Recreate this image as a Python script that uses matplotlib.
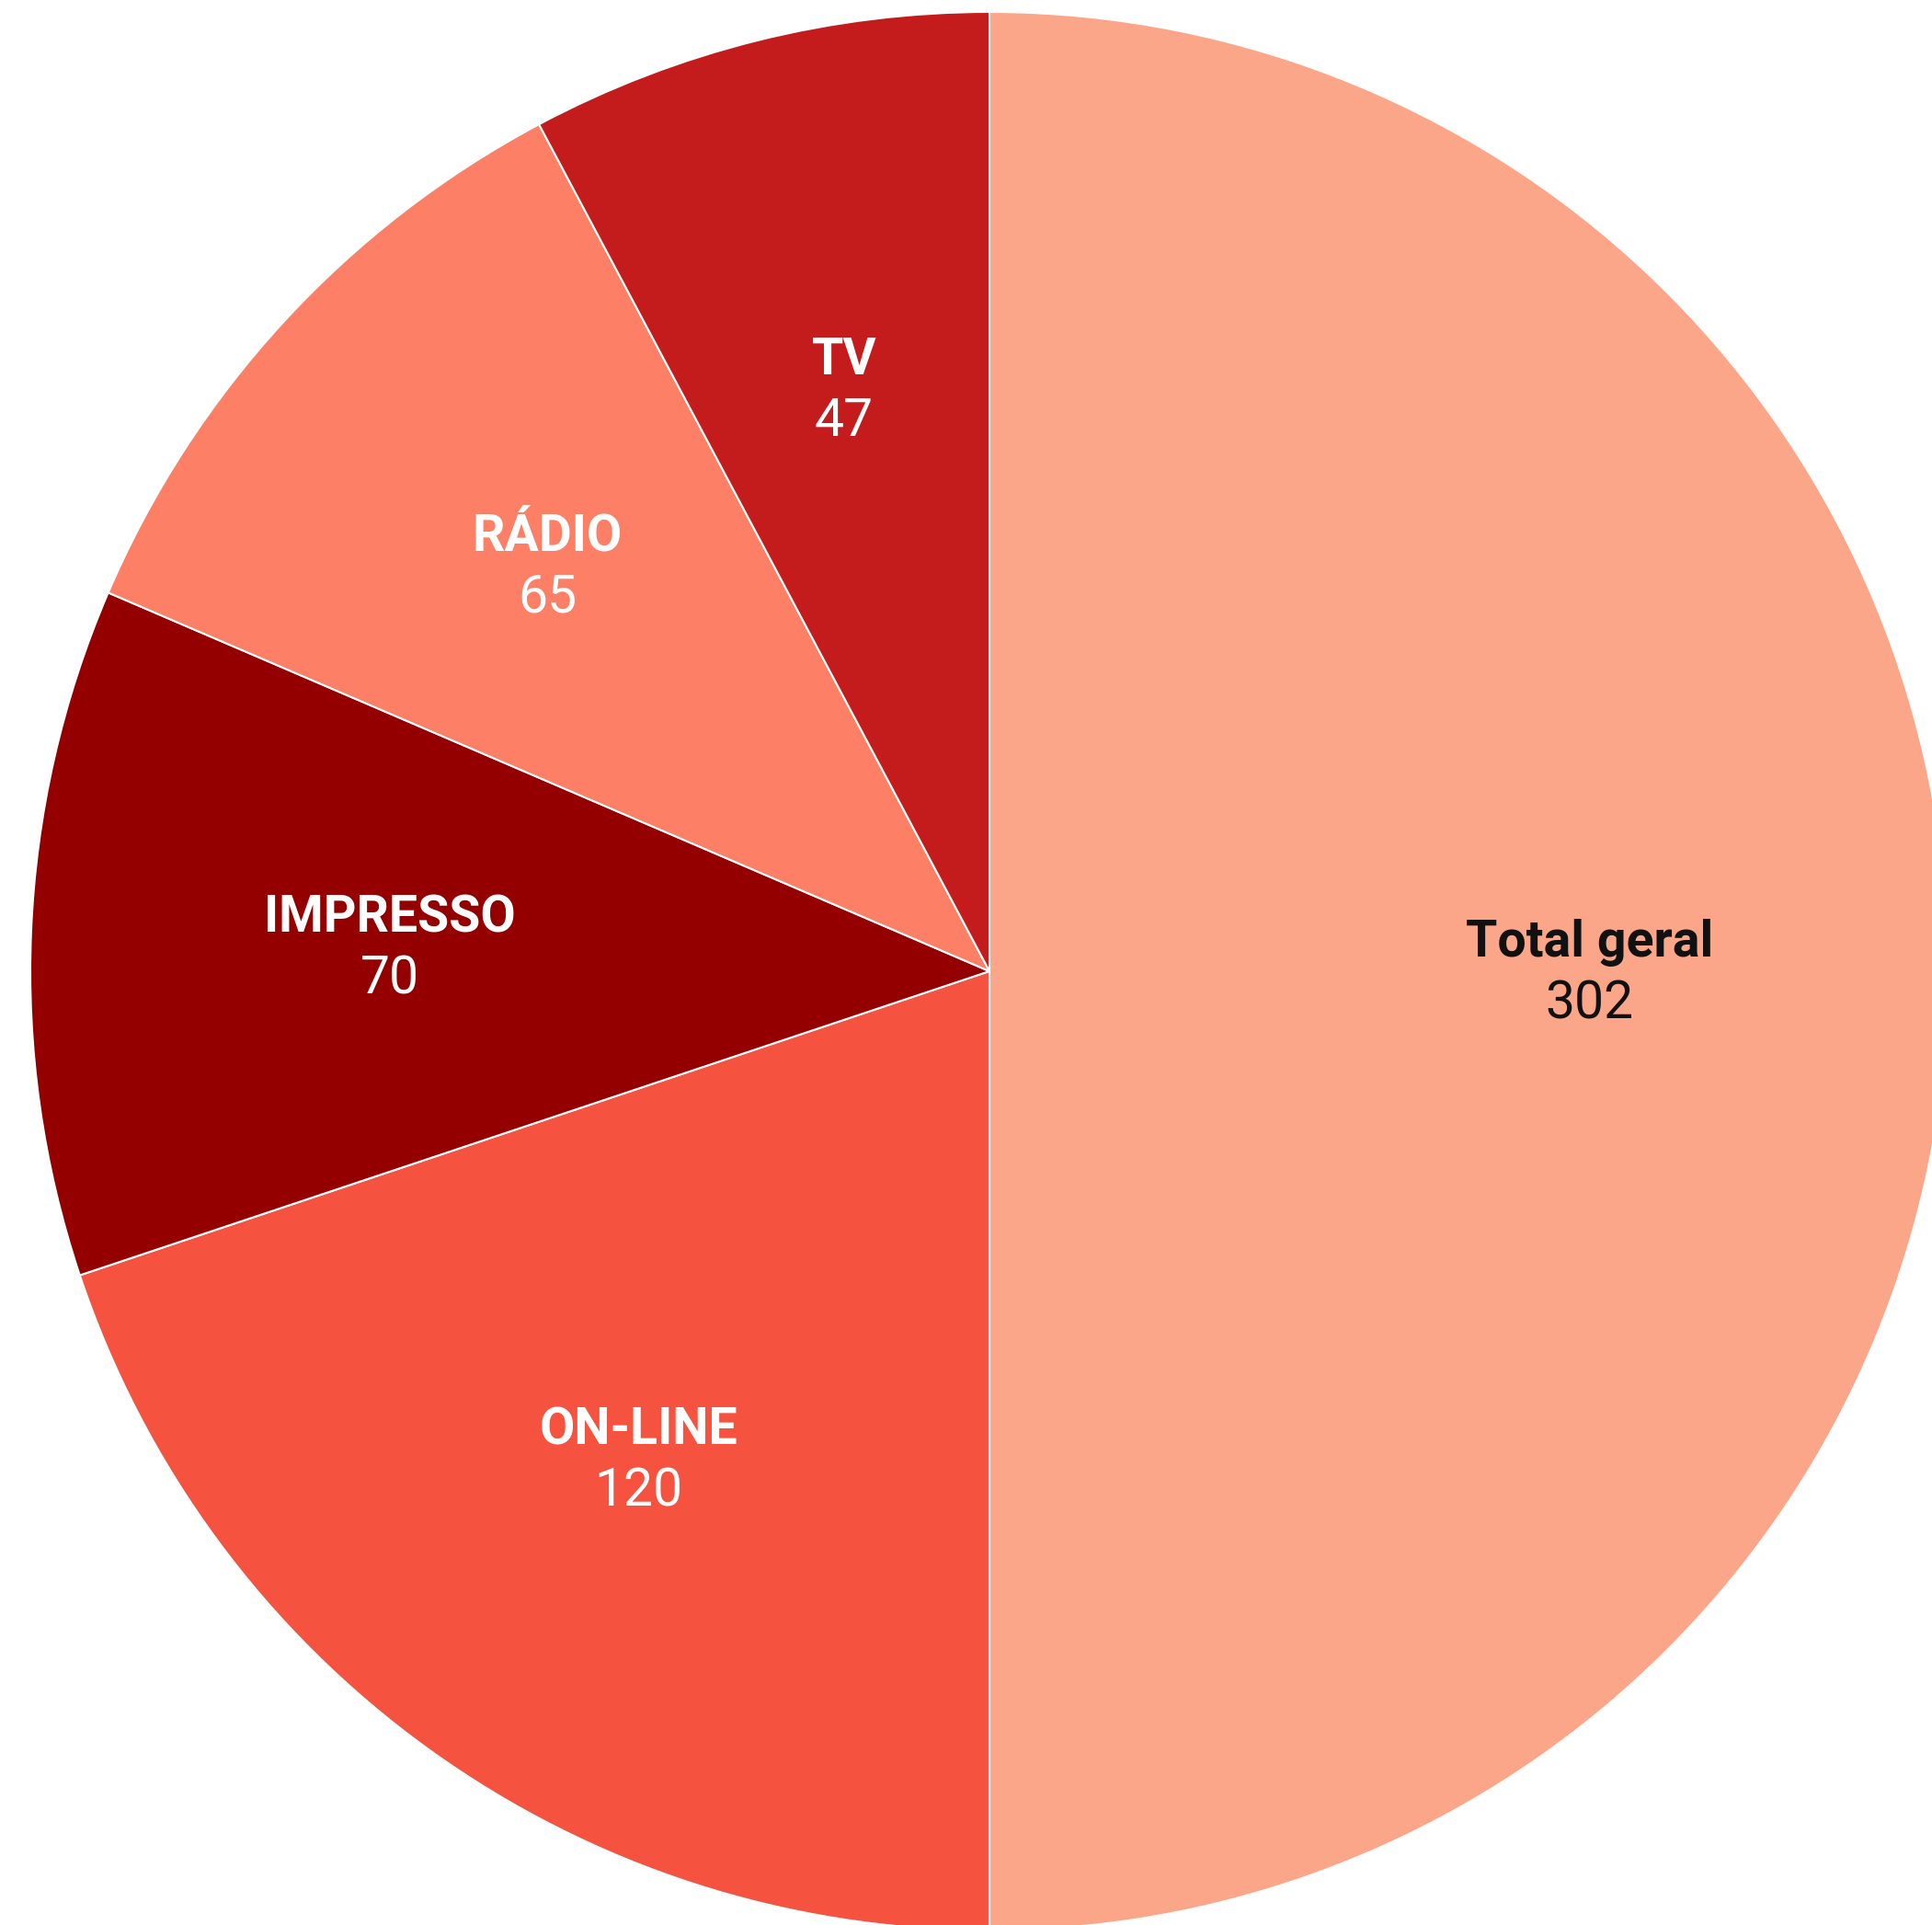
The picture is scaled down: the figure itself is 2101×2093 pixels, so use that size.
import numpy as np
import matplotlib
matplotlib.use("Agg")
import matplotlib.pyplot as plt

plt.rcParams['font.family'] = ['Roboto', 'DejaVu Sans']

categories = ["Total geral", "ON-LINE", "IMPRESSO", "RÁDIO", "TV"]
values = [302, 120, 70, 65, 47]
colors = ["#FCA689", "#F5523F", "#940000", "#FC7F66", "#C41C1C"]
text_colors = ["#111111", "white", "white", "white", "white"]

W, H = 2101, 2093
fig = plt.figure(figsize=(W / 100, H / 100), dpi=100)
ax = fig.add_axes([0, 0, 1, 1])

wedges, _ = ax.pie(values, colors=colors, startangle=90, counterclock=False,
                   radius=1.0, wedgeprops=dict(edgecolor='white', linewidth=1.5))

# pie centre at (1076, 1056) px, radius 1043 px
cx, cy, r = 1076, 1056, 1043
ax.set_aspect('auto')
ax.set_xlim(-cx / r, (W - cx) / r)
ax.set_ylim(-(H - cy) / r, cy / r)
ax.axis('off')

dist = 0.626
for w, cat, val, tc in zip(wedges, categories, values, text_colors):
    ang = np.deg2rad((w.theta1 + w.theta2) / 2)
    x, y = dist * np.cos(ang), dist * np.sin(ang)
    ax.annotate(cat, (x, y), xytext=(0, 22), textcoords='offset points',
                ha='center', va='center', fontsize=40, fontweight='bold', color=tc)
    ax.annotate(str(val), (x, y), xytext=(0, -26), textcoords='offset points',
                ha='center', va='center', fontsize=41, color=tc)

fig.savefig("out.png", dpi=100)
